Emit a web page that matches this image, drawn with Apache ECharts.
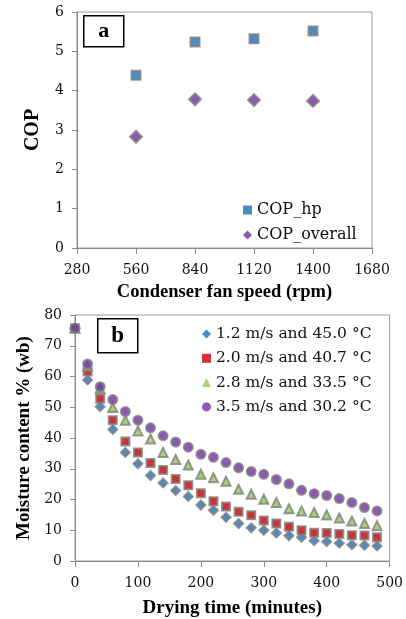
<!DOCTYPE html>
<html><head><meta charset="utf-8">
<script src="https://cdn.jsdelivr.net/npm/echarts@6/dist/echarts.min.js"></script>
<style>html,body{margin:0;padding:0;background:#fff}#c{width:406px;height:619px}</style>
</head><body><div id="c"></div>
<script>
// Panel a
const fanSpeed = [560, 840, 1120, 1400];
const copHp = [4.39, 5.24, 5.32, 5.52];
const copOverall = [2.83, 3.78, 3.76, 3.74];
const fanTicks = [280, 560, 840, 1120, 1400, 1680];

// Panel b
const dryTime = [0,20,40,60,80,100,120,140,160,180,200,220,240,260,280,300,320,340,360,380,400,420,440,460,480];
const mc12 = [75.7,58.9,50.2,42.8,35.3,31.6,27.8,25.4,22.9,21.0,18.2,16.5,14.2,12.2,10.8,10.0,9.1,8.2,7.7,6.6,6.3,5.8,5.3,5.1,4.9];
const mc20 = [75.7,61.6,52.8,45.8,38.9,35.3,31.9,29.6,26.7,24.6,22.0,19.4,17.7,16.0,14.9,13.2,12.2,11.1,10.0,9.2,9.1,8.8,8.4,8.3,7.7];
const mc28 = [75.7,63.3,56.0,49.9,45.8,42.3,39.7,35.3,33.0,31.2,28.2,27.1,25.9,23.3,21.7,20.1,19.0,17.0,16.3,15.8,15.0,14.0,13.0,12.2,11.5];
const mc35 = [75.7,64.1,56.7,52.5,48.6,45.8,43.3,40.7,38.7,37.0,34.7,33.7,32.0,30.3,29.1,28.2,26.5,25.1,23.0,21.9,21.3,20.3,19.0,17.4,16.3];
const seriesNamesB = ['1.2 m/s and 45.0 °C','2.0 m/s and 40.7 °C','2.8 m/s and 33.5 °C','3.5 m/s and 30.2 °C'];

const zip = (xs, ys) => xs.map((x, i) => [x, ys[i]]);
const tickFont = {fontFamily: 'DejaVu Serif', fontSize: 14, color: '#111', formatter: (v) => String(v)};
const titleFont = {fontFamily: 'Liberation Serif', fontWeight: 'bold', fontSize: 19, color: '#000'};
const axisGray = '#8a8a8a';
const mk = (color) => ({color: color, borderColor: '#808080', borderWidth: 2});

const chart = echarts.init(document.getElementById('c'), null, {renderer: 'canvas'});
chart.setOption({
  animation: false,
  backgroundColor: '#fff',
  grid: [
    {left: 77, top: 12, width: 295, height: 236, show: true, borderColor: '#999', borderWidth: 1, containLabel: false},
    {left: 75, top: 315, width: 316, height: 249, show: true, borderColor: '#999', borderWidth: 1, containLabel: false}
  ],
  xAxis: [
    {gridIndex: 0, type: 'value', min: 280, max: 1680, interval: 280,
     name: 'Condenser fan speed (rpm)', nameLocation: 'middle', nameGap: 35, nameTextStyle: Object.assign({}, titleFont, {fontSize: 18.5}),
     axisLine: {show: true, lineStyle: {color: axisGray}}, axisTick: {show: true, length: 6, lineStyle: {color: axisGray}},
     splitLine: {show: false}, axisLabel: Object.assign({margin: 15}, tickFont)},
    {gridIndex: 1, type: 'value', min: 0, max: 500, interval: 100,
     name: 'Drying time (minutes)', nameLocation: 'middle', nameGap: 38, nameTextStyle: titleFont,
     axisLine: {show: true, onZero: false, lineStyle: {color: axisGray}}, axisTick: {show: true, length: 6, lineStyle: {color: axisGray}},
     splitLine: {show: false}, axisLabel: Object.assign({margin: 15}, tickFont)}
  ],
  yAxis: [
    {gridIndex: 0, type: 'value', min: 0, max: 6, interval: 1,
     name: 'COP', nameLocation: 'middle', nameGap: 34, nameTextStyle: Object.assign({}, titleFont, {fontSize: 20}),
     axisLine: {show: true, lineStyle: {color: axisGray}}, axisTick: {show: true, length: 5, lineStyle: {color: axisGray}},
     splitLine: {show: false}, axisLabel: Object.assign({margin: 13}, tickFont)},
    {gridIndex: 1, type: 'value', min: 0, max: 80, interval: 10,
     name: 'Moisture content % (wb)', nameLocation: 'middle', nameGap: 40, nameTextStyle: titleFont,
     axisLine: {show: true, onZero: false, lineStyle: {color: axisGray}}, axisTick: {show: true, length: 5, lineStyle: {color: axisGray}},
     splitLine: {show: false}, axisLabel: Object.assign({margin: 13}, tickFont)}
  ],
  legend: [
    {data: ['COP_hp', 'COP_overall'], orient: 'vertical', left: 238, top: 197, itemWidth: 9, itemHeight: 9, itemGap: 9,
     itemStyle: {borderWidth: 0},
     textStyle: {fontFamily: 'DejaVu Serif', fontSize: 16, lineHeight: 16, color: '#111'}},
    {data: seriesNamesB, orient: 'vertical', left: 197, top: 321, itemWidth: 9, itemHeight: 9, itemGap: 8.3,
     itemStyle: {borderWidth: 0},
     textStyle: {fontFamily: 'DejaVu Serif', fontSize: 15.5, lineHeight: 16, color: '#111'}}
  ],
  series: [
    {name: 'COP_hp', type: 'scatter', xAxisIndex: 0, yAxisIndex: 0, symbol: 'rect', symbolSize: 9,
     itemStyle: mk('#1F6EB5'), data: zip(fanSpeed, copHp)},
    {name: 'COP_overall', type: 'scatter', xAxisIndex: 0, yAxisIndex: 0, symbol: 'diamond', symbolSize: 12,
     itemStyle: mk('#7030A0'), data: zip(fanSpeed, copOverall)},
    {name: seriesNamesB[0], type: 'scatter', xAxisIndex: 1, yAxisIndex: 1, symbol: 'diamond', symbolSize: 9,
     itemStyle: mk('#1F6EB5'), data: zip(dryTime, mc12)},
    {name: seriesNamesB[1], type: 'scatter', xAxisIndex: 1, yAxisIndex: 1, symbol: 'rect', symbolSize: 8,
     itemStyle: mk('#C00000'), data: zip(dryTime, mc20)},
    {name: seriesNamesB[2], type: 'scatter', xAxisIndex: 1, yAxisIndex: 1, symbol: 'triangle', symbolSize: 9,
     itemStyle: mk('#96C850'), data: zip(dryTime, mc28)},
    {name: seriesNamesB[3], type: 'scatter', xAxisIndex: 1, yAxisIndex: 1, symbol: 'circle', symbolSize: 9,
     itemStyle: mk('#7030A0'), data: zip(dryTime, mc35)}
  ],
  graphic: [
    {type: 'group', left: 83, top: 15, children: [
      {type: 'rect', shape: {x: 0, y: 0, width: 40, height: 31}, style: {fill: '#fff', stroke: '#000', lineWidth: 1.5}},
      {type: 'text', x: 20, y: 15.5, style: {text: 'a', fill: '#000', font: 'bold 22px "Liberation Serif"', textAlign: 'center', textVerticalAlign: 'middle'}}
    ]},
    {type: 'group', left: 97, top: 318, children: [
      {type: 'rect', shape: {x: 0, y: 0, width: 40, height: 34}, style: {fill: '#fff', stroke: '#000', lineWidth: 1.5}},
      {type: 'text', x: 20, y: 17, style: {text: 'b', fill: '#000', font: 'bold 23px "Liberation Serif"', textAlign: 'center', textVerticalAlign: 'middle'}}
    ]}
  ]
});
</script></body></html>
